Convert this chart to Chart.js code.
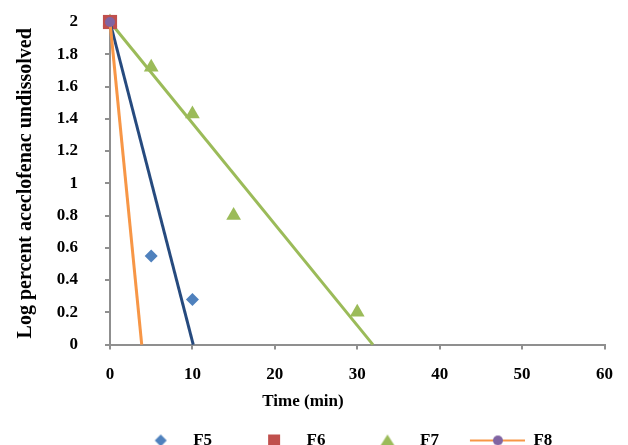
<!DOCTYPE html>
<html>
<head>
<meta charset="utf-8">
<script src="https://cdn.jsdelivr.net/npm/chart.js@4"></script>
<style>
  html, body { margin: 0; padding: 0; background: #fff; }
  #wrap { width: 628px; height: 445px; }
</style>
</head>
<body>
<div id="wrap"><canvas id="chart"></canvas></div>
<script>
// Data
const timeF5 = [0, 5, 10];
const logF5 = [2, 0.55, 0.28];
const timeF6 = [0];
const logF6 = [2];
const timeF7 = [0, 5, 10, 15, 30];
const logF7 = [2, 1.72, 1.43, 0.8, 0.2];
const timeF8 = [0, 3.85];
const logF8 = [2, 0];
// trend lines (start / end)
const trendTimeF5 = [0, 10.1];
const trendLogF5 = [2, 0];
const trendTimeF7 = [0, 31.9];
const trendLogF7 = [2, 0];
const seriesNames = ['F5', 'F6', 'F7', 'F8'];

const FONT = 'Liberation Serif, Times New Roman, serif';
const AXIS = '#8f8f8f';

function pts(xs, ys) {
  return xs.map((x, i) => ({ x: x, y: ys[i] }));
}

// legend swatches
const LW = 80;
function swatch(draw) {
  const c = document.createElement('canvas');
  c.width = LW; c.height = 16;
  const g = c.getContext('2d');
  draw(g, LW - 24, 8);
  return c;
}
const legendImgs = [
  swatch((g, x, y) => {
    g.fillStyle = '#4F81BD';
    g.beginPath(); g.moveTo(x, y - 6); g.lineTo(x + 6, y); g.lineTo(x, y + 6); g.lineTo(x - 6, y); g.closePath(); g.fill();
  }),
  swatch((g, x, y) => {
    g.fillStyle = '#C0504D';
    g.fillRect(x - 6, y - 6, 12, 12);
  }),
  swatch((g, x, y) => {
    g.fillStyle = '#9BBB59';
    g.beginPath(); g.moveTo(x, y - 6); g.lineTo(x + 7, y + 5); g.lineTo(x - 7, y + 5); g.closePath(); g.fill();
  }),
  swatch((g, x, y) => {
    g.strokeStyle = '#F79646'; g.lineWidth = 2;
    g.beginPath(); g.moveTo(LW - 55, y); g.lineTo(LW, y); g.stroke();
    g.fillStyle = '#8064A2';
    g.beginPath(); g.arc(LW - 27, y, 5, 0, Math.PI * 2); g.fill();
  })
];

const xTitle = {
  id: 'xTitle',
  afterLayout(chart) {
    // legend sits a little right of centre in the original
    chart.legend.left += 11;
    chart.legend.right += 11;
  },
  afterDraw(chart) {
    const { ctx, chartArea } = chart;
    ctx.save();
    ctx.font = 'bold 17px ' + FONT;
    ctx.fillStyle = '#000';
    ctx.textAlign = 'center';
    ctx.textBaseline = 'middle';
    ctx.fillText('Time (min)', chartArea.left + 193, chartArea.bottom + 57);
    ctx.restore();
  }
};

new Chart(document.getElementById('chart'), {
  type: 'scatter',
  data: {
    datasets: [
      {
        label: 'F5', data: pts(timeF5, logF5), showLine: false, clip: false,
        pointStyle: 'rectRot', pointRadius: 6.5, pointHoverRadius: 6.5,
        backgroundColor: '#4F81BD', borderColor: '#4F81BD', borderWidth: 0, order: 4
      },
      {
        label: 'F6', data: pts(timeF6, logF6), showLine: false, clip: false,
        pointStyle: 'rect', pointRadius: 10, pointHoverRadius: 10,
        backgroundColor: '#C0504D', borderColor: '#C0504D', borderWidth: 0, order: 3
      },
      {
        label: 'F7', data: pts(timeF7, logF7), showLine: false, clip: false,
        pointStyle: 'triangle', pointRadius: 8.5, pointHoverRadius: 8.5,
        backgroundColor: '#9BBB59', borderColor: '#9BBB59', borderWidth: 0, order: 5
      },
      {
        label: 'F8', data: pts(timeF8, logF8), showLine: true, clip: false,
        borderColor: '#F79646', borderWidth: 3,
        pointStyle: 'circle', pointRadius: [5, 0], pointHoverRadius: [5, 0],
        pointBackgroundColor: '#8064A2', pointBorderWidth: 0, order: 1
      },
      {
        label: 'trendF5', data: pts(trendTimeF5, trendLogF5), showLine: true, clip: false,
        borderColor: '#264A7E', borderWidth: 3, pointRadius: 0, order: 2
      },
      {
        label: 'trendF7', data: pts(trendTimeF7, trendLogF7), showLine: true, clip: false,
        borderColor: '#9BBB59', borderWidth: 3, pointRadius: 0, order: 6
      }
    ]
  },
  options: {
    responsive: true,
    maintainAspectRatio: false,
    animation: false,
    layout: { autoPadding: false, padding: { left: 10, right: 3, top: 0, bottom: -14 } },
    plugins: {
      tooltip: { enabled: false },
      legend: {
        position: 'bottom',
        labels: {
          usePointStyle: true,
          pointStyleWidth: LW,
          boxHeight: 16,
          padding: 6,
          color: '#000',
          font: { family: FONT, size: 17, weight: 'bold' },
          generateLabels: chart => seriesNames.map((name, i) => ({
            text: name,
            pointStyle: legendImgs[i],
            datasetIndex: i,
            hidden: false,
            lineWidth: 0,
            fontColor: '#000'
          }))
        }
      }
    },
    scales: {
      x: {
        type: 'linear', min: 0, max: 60,
        border: { display: true, color: AXIS, width: 2 },
        grid: { display: true, drawOnChartArea: false, drawTicks: true, tickLength: 5, color: AXIS, lineWidth: 2 },
        ticks: { stepSize: 10, padding: 15, color: '#000', font: { family: FONT, size: 17, weight: 'bold' } },
        afterFit: scale => { scale.height += 26; }
      },
      y: {
        type: 'linear', min: 0, max: 2,
        border: { display: true, color: AXIS, width: 2 },
        grid: { display: true, drawOnChartArea: false, drawTicks: true, tickLength: 5, color: AXIS, lineWidth: 2 },
        ticks: {
          stepSize: 0.2, padding: 27, color: '#000',
          font: { family: FONT, size: 17, weight: 'bold' },
          callback: v => String(Number(v.toFixed(1)))
        },
        title: {
          display: true, text: 'Log percent aceclofenac undissolved', color: '#000',
          font: { family: FONT, size: 20, weight: 'bold' }, padding: { top: 4, bottom: 0 }
        },
        afterFit: scale => {
          scale.width = 100;
          scale.paddingTop = 22;
          scale.paddingBottom = 10;
        }
      }
    }
  },
  plugins: [xTitle]
});
</script>
</body>
</html>
